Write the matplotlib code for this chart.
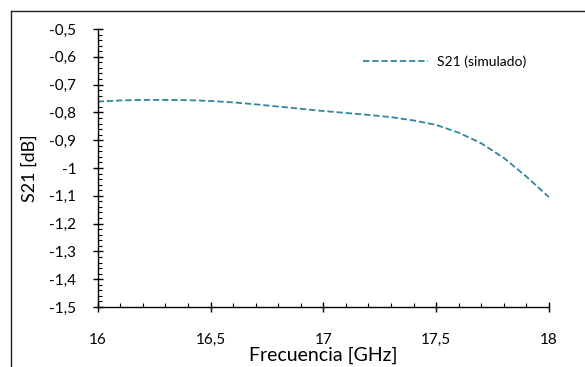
import numpy as np
import matplotlib
matplotlib.use("Agg")
from matplotlib import pyplot as plt
from matplotlib.lines import Line2D
from matplotlib.ticker import MultipleLocator, FuncFormatter

# datos
freq = [16.0, 16.1, 16.2, 16.3, 16.4, 16.5, 16.6, 16.7, 16.8, 16.9, 17.0,
        17.1, 17.2, 17.3, 17.4, 17.5, 17.6, 17.7, 17.8, 17.9, 18.0]
s21 = [-0.761, -0.757, -0.755, -0.755, -0.756, -0.759, -0.764, -0.771, -0.779, -0.787, -0.795,
       -0.802, -0.809, -0.817, -0.829, -0.845, -0.873, -0.911, -0.964, -1.031, -1.105]
serie = "S21 (simulado)"
x_label = "Frecuencia [GHz]"
y_label = "S21 [dB]"

plt.rcParams['font.family'] = ['Lato', 'DejaVu Sans']

W, H = 585, 367
fig = plt.figure(figsize=(W / 100, H / 100), dpi=100)
ax = fig.add_axes([97.7 / W, 1 - 307 / H, (549 - 97.7) / W, (307 - 29) / H])

ax.plot(freq, s21, color='#31859c', lw=1.3, ls=(0, (3.5, 1.6)), label=serie)

ax.set_xlim(16, 18)
ax.set_ylim(-1.5, -0.5)
ax.xaxis.set_major_locator(MultipleLocator(0.5))
ax.xaxis.set_minor_locator(MultipleLocator(0.1))
ax.yaxis.set_major_locator(MultipleLocator(0.1))
ax.yaxis.set_minor_locator(MultipleLocator(0.02))

coma = FuncFormatter(lambda v, p: ('%g' % round(v, 2)).replace('.', ','))
ax.xaxis.set_major_formatter(coma)
ax.yaxis.set_major_formatter(coma)

for s in ['top', 'right']:
    ax.spines[s].set_visible(False)
for s in ['left', 'bottom']:
    ax.spines[s].set_linewidth(1.0)

ax.tick_params(axis='both', which='major', direction='inout', length=7, width=1,
               labelsize=11, colors='black')
ax.tick_params(axis='both', which='minor', direction='in', length=3, width=0.8)
ax.tick_params(axis='x', which='major', pad=15)
ax.tick_params(axis='y', which='major', pad=12)

ax.set_xlabel(x_label, fontsize=14, labelpad=0)
ax.set_ylabel(y_label, fontsize=13, labelpad=8)

ax.legend(loc='center left', bbox_to_anchor=(350 / W, 1 - 61.7 / H), bbox_transform=fig.transFigure,
          frameon=False, fontsize=10, handlelength=4.75, handletextpad=0.6)

# marco del grafico (solo se ve arriba y a la izquierda)
x0, y0 = 11 / W, 1 - 11 / H
fig.add_artist(Line2D([x0, 1.0], [y0, y0], transform=fig.transFigure, color='#222222', lw=1))
fig.add_artist(Line2D([x0, x0], [0.0, y0], transform=fig.transFigure, color='#222222', lw=1))

fig.savefig("out.png", dpi=100)
